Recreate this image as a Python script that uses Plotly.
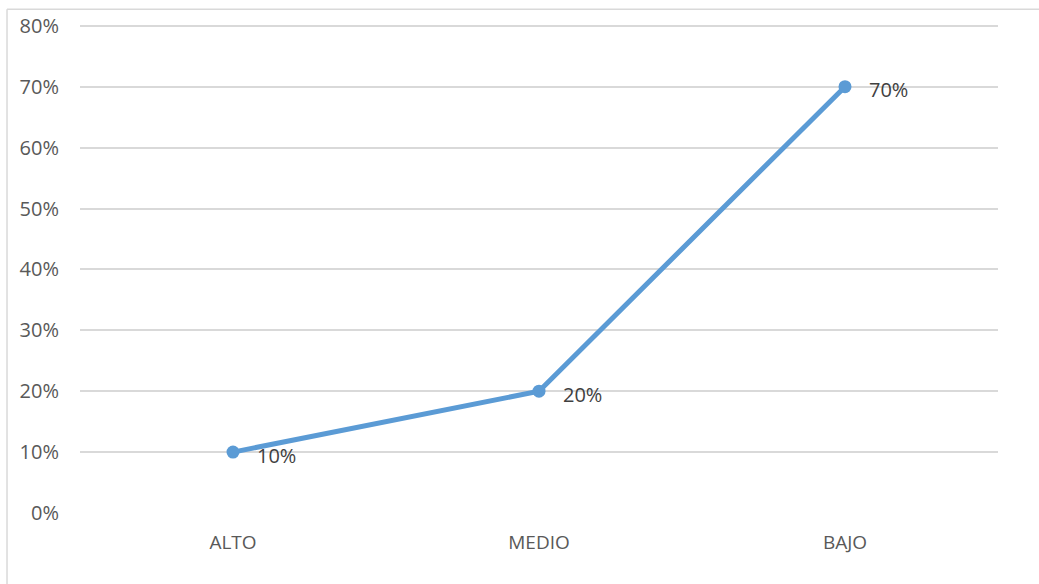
import plotly.graph_objects as go

categories = ["ALTO", "MEDIO", "BAJO"]
values = [0.10, 0.20, 0.70]
labels = ["10%", "20%", "70%"]
tick_vals = [0, 0.1, 0.2, 0.3, 0.4, 0.5, 0.6, 0.7, 0.8]
tick_text = ["0%", "10%", "20%", "30%", "40%", "50%", "60%", "70%", "80%"]

fig = go.Figure()
fig.add_trace(go.Scatter(
    x=categories, y=values, mode="lines+markers",
    line=dict(color="#5B9BD5", width=5),
    marker=dict(color="#5B9BD5", size=13),
    cliponaxis=False, showlegend=False,
))

annotations = [
    dict(x=c, y=v, text=t, xref="x", yref="y", showarrow=False,
         xanchor="left", yanchor="middle", xshift=22, yshift=-3,
         font=dict(family="Open Sans", size=20, color="#404040"))
    for c, v, t in zip(categories, values, labels)
]

fig.update_layout(
    width=1039, height=584,
    margin=dict(l=80, r=41, t=22, b=71),
    paper_bgcolor="white", plot_bgcolor="white",
    font=dict(family="Open Sans", size=20, color="#595959"),
    xaxis=dict(showgrid=False, showline=False, zeroline=False, ticks="",
               range=[-0.5, 2.5], tickfont=dict(size=19), ticklabelstandoff=16),
    yaxis=dict(range=[0, 0.803], tickvals=tick_vals, ticktext=tick_text,
               showgrid=True, gridcolor="#d9d9d9", gridwidth=1.5,
               zeroline=False, showline=False, ticks="", ticklabelstandoff=20),
    annotations=annotations,
    shapes=[
        dict(type="line", xref="paper", yref="paper", x0=-0.0795, x1=-0.0795,
             y0=1.03, y1=-0.2, line=dict(color="#d9d9d9", width=1.5)),
        dict(type="line", xref="paper", yref="paper", x0=-0.0795, x1=1.05,
             y0=1.03, y1=1.03, line=dict(color="#d9d9d9", width=1.5)),
    ],
)
fig.write_html("out.html")
